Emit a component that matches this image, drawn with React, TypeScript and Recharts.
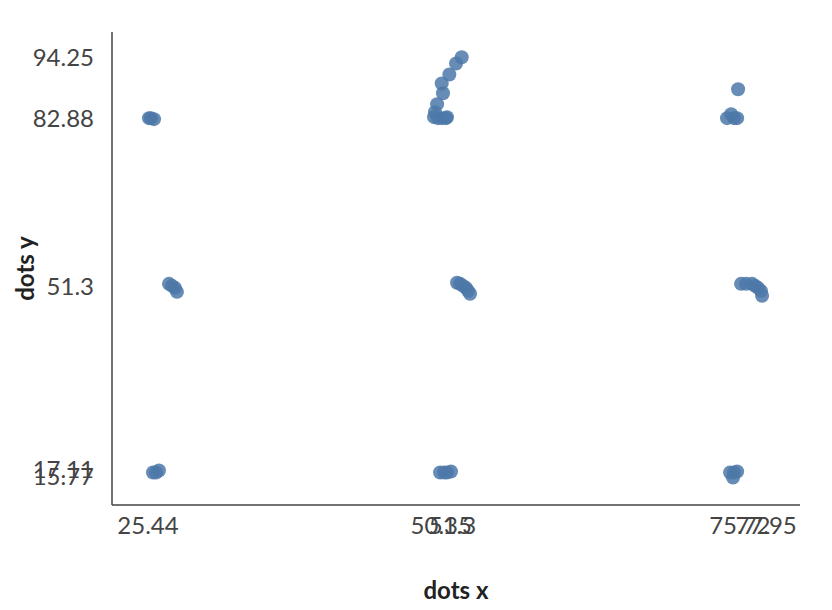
import { ScatterChart, Scatter, XAxis, YAxis } from "recharts";

// tick values shown on each axis
const xTicks = [25.44, 50.35, 51.3, 75.72, 77.95];
const yTicks = [15.77, 17.11, 51.3, 82.88, 94.25];

// dot positions
const dotsX = [
  25.52, 25.69, 25.95,
  27.22, 27.48, 27.73, 27.9,
  25.86, 26.12, 26.37,
  49.82, 49.74, 50.08, 50.42, 50.76, 50.84,
  50.0, 50.5, 50.39, 51.04, 51.61, 52.09,
  51.69, 51.95, 52.2, 52.46, 52.63, 52.8,
  50.25, 50.59, 50.84, 51.18,
  75.57, 74.63, 74.98, 75.23, 75.49,
  75.82, 76.25, 76.76, 77.01, 77.27, 77.52, 77.61,
  74.89, 75.23, 75.49, 75.14,
];
const dotsY = [
  82.85, 82.85, 82.67,
  51.84, 51.46, 51.09, 50.34,
  16.52, 16.52, 16.9,
  83.97, 83.04, 82.85, 82.85, 82.85, 83.04,
  85.47, 87.52, 89.34, 91.02, 93.07, 94.25,
  52.03, 51.84, 51.46, 51.09, 50.53, 49.97,
  16.52, 16.52, 16.52, 16.71,
  88.27, 82.85, 83.6, 82.85, 82.85,
  51.84, 51.84, 51.84, 51.46, 51.09, 50.53, 49.6,
  16.52, 16.52, 16.71, 15.59,
];

const data = dotsX.map((x, i) => ({ x, y: dotsY[i] }));

const tickStyle = { fill: "#444", fontSize: 24, fontFamily: "Lato" };
const titleStyle = {
  fill: "#222",
  fontSize: 24,
  fontWeight: 700,
  fontFamily: "Lato",
};

const Dot = (props: any) => (
  <circle cx={props.cx} cy={props.cy} r={7} fill="#4c78a8" fillOpacity={0.85} />
);

export default function App() {
  return (
    <div style={{ fontFamily: "Lato" }}>
      <ScatterChart
        width={816}
        height={600}
        margin={{ top: 24, right: 24, left: 0, bottom: 0 }}
      >
        <XAxis
          type="number"
          dataKey="x"
          domain={[22.38, 80.83]}
          ticks={xTicks}
          interval={0}
          tickLine={false}
          tickSize={0}
          tickMargin={12}
          height={103}
          tick={tickStyle}
          axisLine={{ stroke: "#444", strokeWidth: 1.5 }}
          label={{
            value: "dots x",
            position: "insideBottom",
            offset: 9,
            style: titleStyle,
          }}
        />
        <YAxis
          type="number"
          dataKey="y"
          domain={[10.44, 98.98]}
          ticks={yTicks}
          interval={0}
          tickLine={false}
          tickSize={0}
          tickMargin={18}
          width={104}
          tick={tickStyle}
          axisLine={{ stroke: "#444", strokeWidth: 1.5 }}
          label={{
            value: "dots y",
            angle: -90,
            position: "insideLeft",
            offset: 17,
            style: { ...titleStyle, textAnchor: "middle" },
          }}
        />
        <Scatter data={data} shape={Dot} isAnimationActive={false} />
      </ScatterChart>
    </div>
  );
}
